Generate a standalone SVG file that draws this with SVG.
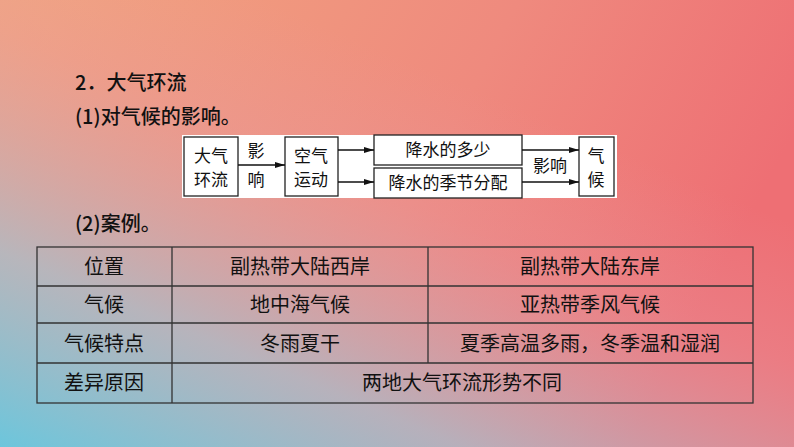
<svg xmlns="http://www.w3.org/2000/svg" width="794" height="447" viewBox="0 0 794 447">
<defs>
<linearGradient id="bg" x1="0" y1="0" x2="1" y2="0.3">
<stop offset="0" stop-color="#f2a67e"/><stop offset="0.6" stop-color="#ef8a7e"/><stop offset="1" stop-color="#ee6f74"/>
</linearGradient>
<linearGradient id="bg2" x1="0" y1="1" x2="0.6" y2="0.2">
<stop offset="0" stop-color="#6cc6dc" stop-opacity="1"/><stop offset="0.35" stop-color="#a9bccb" stop-opacity="0.8"/><stop offset="0.75" stop-color="#e59aa6" stop-opacity="0.3"/><stop offset="1" stop-color="#e59aa6" stop-opacity="0"/>
</linearGradient>
<marker id="ar" markerWidth="10" markerHeight="8" refX="10" refY="4" orient="auto" markerUnits="userSpaceOnUse"><path d="M0,1 L10,4 L0,7 Z" fill="#111"/></marker>
<style>
text{font-family:"Noto Sans CJK SC","Liberation Serif",sans-serif;fill:#111}
.h{font-size:20px;font-weight:500}
.f{font-size:17px}
.t{font-size:20px;text-anchor:middle}
.b{fill:#fff;stroke:#222;stroke-width:1.3}
.c{stroke:#111;stroke-width:1.5;fill:none;marker-end:url(#ar)}
.g{stroke:#333;stroke-width:1.3;fill:none}
</style>
</defs>
<rect width="794" height="447" fill="url(#bg)"/>
<rect width="794" height="447" fill="url(#bg2)"/>
<text class="h" x="75" y="90">2．大气环流</text>
<text class="h" x="75" y="124">(1)对气候的影响。</text>
<text class="h" x="75" y="231">(2)案例。</text>
<rect x="182" y="135" width="435" height="63" fill="#fff"/>
<g id="n1"><rect class="b" x="184" y="137" width="54" height="59"/><text class="f" x="211" y="162" text-anchor="middle">大气</text><text class="f" x="211" y="186" text-anchor="middle">环流</text></g>
<g id="n2"><rect class="b" x="285" y="137" width="53" height="59"/><text class="f" x="311" y="162" text-anchor="middle">空气</text><text class="f" x="311" y="186" text-anchor="middle">运动</text></g>
<g id="n3"><rect class="b" x="374" y="135" width="148" height="30"/><text class="f" x="448" y="156" text-anchor="middle">降水的多少</text></g>
<g id="n4"><rect class="b" x="374" y="168" width="148" height="30"/><text class="f" x="448" y="189" text-anchor="middle">降水的季节分配</text></g>
<g id="n5"><rect class="b" x="579" y="137" width="35" height="59"/><text class="f" x="596" y="162" text-anchor="middle">气</text><text class="f" x="596" y="186" text-anchor="middle">候</text></g>
<g id="edges">
<path class="c" d="M238,165 H285"/>
<path class="c" d="M338,150 H374"/>
<path class="c" d="M338,182 H374"/>
<path class="c" d="M522,150 H579"/>
<path class="c" d="M522,182 H579"/>
<text class="f" x="256" y="157" text-anchor="middle">影</text>
<text class="f" x="256" y="186" text-anchor="middle">响</text>
<text class="f" x="550" y="172" text-anchor="middle">影响</text>
</g>
<g id="table">
<rect class="g" x="37" y="247" width="716" height="156"/>
<path class="g" d="M37,286 H753 M37,323 H753 M37,363 H753 M172,247 V403 M428,247 V363"/>
<text class="t" x="104" y="274">位置</text><text class="t" x="300" y="274">副热带大陆西岸</text><text class="t" x="590" y="274">副热带大陆东岸</text>
<text class="t" x="104" y="312">气候</text><text class="t" x="300" y="312">地中海气候</text><text class="t" x="590" y="312">亚热带季风气候</text>
<text class="t" x="104" y="351">气候特点</text><text class="t" x="300" y="351">冬雨夏干</text><text class="t" x="590" y="351">夏季高温多雨，冬季温和湿润</text>
<text class="t" x="104" y="390">差异原因</text><text class="t" x="462" y="390">两地大气环流形势不同</text>
</g>
</svg>
